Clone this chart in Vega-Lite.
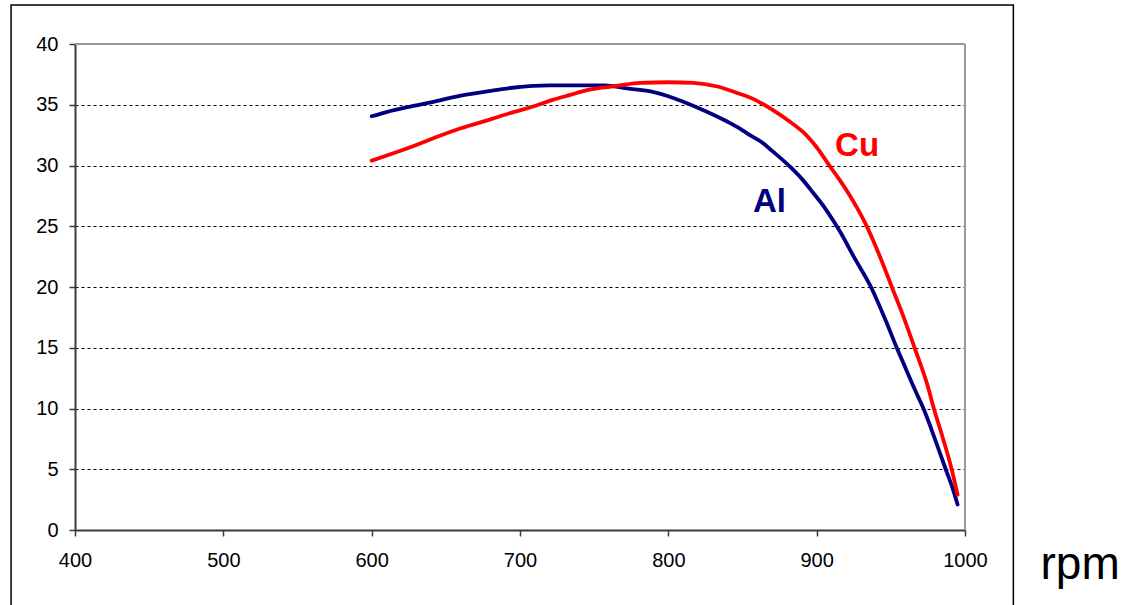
{
  "$schema": "https://vega.github.io/schema/vega-lite/v6.json",
  "width": 890,
  "height": 486,
  "autosize": {"type": "none"},
  "padding": {"left": 75, "top": 44, "right": 163, "bottom": 75},
  "background": "white",
  "config": {
    "view": {"stroke": null},
    "font": "Liberation Sans"
  },
  "datasets": {
    "torque": [
      {"metal": "Al", "rpm": 600, "torque": 34.05},
      {"metal": "Al", "rpm": 610, "torque": 34.4},
      {"metal": "Al", "rpm": 626, "torque": 34.85},
      {"metal": "Al", "rpm": 640, "torque": 35.2},
      {"metal": "Al", "rpm": 660, "torque": 35.75},
      {"metal": "Al", "rpm": 680, "torque": 36.15},
      {"metal": "Al", "rpm": 695, "torque": 36.4},
      {"metal": "Al", "rpm": 720, "torque": 36.6},
      {"metal": "Al", "rpm": 757, "torque": 36.6},
      {"metal": "Al", "rpm": 772, "torque": 36.35},
      {"metal": "Al", "rpm": 788, "torque": 36.1},
      {"metal": "Al", "rpm": 800, "torque": 35.7},
      {"metal": "Al", "rpm": 810, "torque": 35.25},
      {"metal": "Al", "rpm": 821, "torque": 34.7},
      {"metal": "Al", "rpm": 840, "torque": 33.6},
      {"metal": "Al", "rpm": 848, "torque": 33.06},
      {"metal": "Al", "rpm": 855, "torque": 32.5},
      {"metal": "Al", "rpm": 862, "torque": 32.0},
      {"metal": "Al", "rpm": 870, "torque": 31.2},
      {"metal": "Al", "rpm": 882, "torque": 29.9},
      {"metal": "Al", "rpm": 890, "torque": 28.9},
      {"metal": "Al", "rpm": 898, "torque": 27.7},
      {"metal": "Al", "rpm": 905, "torque": 26.6},
      {"metal": "Al", "rpm": 912, "torque": 25.3},
      {"metal": "Al", "rpm": 916, "torque": 24.5},
      {"metal": "Al", "rpm": 925, "torque": 22.5},
      {"metal": "Al", "rpm": 937, "torque": 19.9},
      {"metal": "Al", "rpm": 946, "torque": 17.4},
      {"metal": "Al", "rpm": 954, "torque": 15.0},
      {"metal": "Al", "rpm": 960, "torque": 13.3},
      {"metal": "Al", "rpm": 966, "torque": 11.6},
      {"metal": "Al", "rpm": 972, "torque": 10.0},
      {"metal": "Al", "rpm": 980, "torque": 7.4},
      {"metal": "Al", "rpm": 987, "torque": 5.0},
      {"metal": "Al", "rpm": 992, "torque": 3.3},
      {"metal": "Al", "rpm": 995, "torque": 2.1},
      {"metal": "Cu", "rpm": 600, "torque": 30.4},
      {"metal": "Cu", "rpm": 626, "torque": 31.5},
      {"metal": "Cu", "rpm": 645, "torque": 32.4},
      {"metal": "Cu", "rpm": 660, "torque": 33.06},
      {"metal": "Cu", "rpm": 680, "torque": 33.8},
      {"metal": "Cu", "rpm": 693, "torque": 34.3},
      {"metal": "Cu", "rpm": 710, "torque": 34.9},
      {"metal": "Cu", "rpm": 722, "torque": 35.4},
      {"metal": "Cu", "rpm": 735, "torque": 35.85},
      {"metal": "Cu", "rpm": 742, "torque": 36.1},
      {"metal": "Cu", "rpm": 755, "torque": 36.4},
      {"metal": "Cu", "rpm": 765, "torque": 36.55},
      {"metal": "Cu", "rpm": 781, "torque": 36.8},
      {"metal": "Cu", "rpm": 800, "torque": 36.85},
      {"metal": "Cu", "rpm": 817, "torque": 36.8},
      {"metal": "Cu", "rpm": 833, "torque": 36.5},
      {"metal": "Cu", "rpm": 848, "torque": 35.9},
      {"metal": "Cu", "rpm": 855, "torque": 35.6},
      {"metal": "Cu", "rpm": 870, "torque": 34.6},
      {"metal": "Cu", "rpm": 882, "torque": 33.6},
      {"metal": "Cu", "rpm": 893, "torque": 32.5},
      {"metal": "Cu", "rpm": 900, "torque": 31.5},
      {"metal": "Cu", "rpm": 908, "torque": 30.1},
      {"metal": "Cu", "rpm": 915, "torque": 28.9},
      {"metal": "Cu", "rpm": 922, "torque": 27.6},
      {"metal": "Cu", "rpm": 933, "torque": 25.2},
      {"metal": "Cu", "rpm": 942, "torque": 22.7},
      {"metal": "Cu", "rpm": 951, "torque": 19.9},
      {"metal": "Cu", "rpm": 959, "torque": 17.4},
      {"metal": "Cu", "rpm": 966, "torque": 15.0},
      {"metal": "Cu", "rpm": 975, "torque": 11.8},
      {"metal": "Cu", "rpm": 979, "torque": 10.0},
      {"metal": "Cu", "rpm": 985, "torque": 7.6},
      {"metal": "Cu", "rpm": 991, "torque": 5.0},
      {"metal": "Cu", "rpm": 995, "torque": 2.9}
    ]
  },
  "layer": [
    {
      "data": {"values": [{}]},
      "mark": {"type": "rect", "fill": null, "stroke": "black", "strokeWidth": 1.5, "clip": false},
      "encoding": {
        "x": {"datum": 356.9, "type": "quantitative"},
        "x2": {"datum": 1032.6},
        "y": {"datum": 43.2, "type": "quantitative"},
        "y2": {"datum": -10}
      }
    },
    {
      "data": {"name": "torque"},
      "mark": {"type": "line", "interpolate": "monotone", "strokeWidth": 3.8, "strokeJoin": "round", "strokeCap": "round"},
      "encoding": {
        "x": {
          "field": "rpm",
          "type": "quantitative",
          "scale": {"domain": [400, 1000], "nice": false, "zero": false},
          "axis": {
            "values": [400, 500, 600, 700, 800, 900, 1000],
            "format": "d",
            "grid": false,
            "labelFlush": false,
            "labelFont": "Liberation Sans",
            "labelFontSize": 20,
            "labelColor": "black",
            "labelPadding": 14,
            "domainColor": "#3a3a3a",
            "domainWidth": 2,
            "tickColor": "#3a3a3a",
            "tickWidth": 1.5,
            "tickSize": 6,
            "title": "rpm",
            "titleFont": "Liberation Sans",
            "titleFontSize": 46,
            "titleFontWeight": "normal",
            "titleColor": "black",
            "titleX": 965,
            "titleY": 48,
            "titleAlign": "left",
            "titleBaseline": "alphabetic",
            "titleAnchor": "start"
          }
        },
        "y": {
          "field": "torque",
          "type": "quantitative",
          "scale": {"domain": [0, 40], "nice": false},
          "axis": {
            "values": [0, 5, 10, 15, 20, 25, 30, 35, 40],
            "grid": true,
            "gridColor": "black",
            "gridDash": [3, 3],
            "gridWidth": 1,
            "labelFlush": false,
            "labelFont": "Liberation Sans",
            "labelFontSize": 20,
            "labelColor": "black",
            "labelPadding": 11,
            "domainColor": "#3a3a3a",
            "domainWidth": 2,
            "tickColor": "#3a3a3a",
            "tickWidth": 1.5,
            "tickSize": 6,
            "title": null
          }
        },
        "color": {
          "field": "metal",
          "type": "nominal",
          "scale": {"domain": ["Al", "Cu"], "range": ["#000080", "#ff0000"]},
          "legend": null
        }
      }
    },
    {
      "data": {"values": [{}]},
      "mark": {"type": "rule", "color": "#999999", "strokeWidth": 2},
      "encoding": {"y": {"datum": 40, "type": "quantitative"}}
    },
    {
      "data": {"values": [{}]},
      "mark": {"type": "rule", "color": "#999999", "strokeWidth": 2},
      "encoding": {"x": {"datum": 1000, "type": "quantitative"}}
    },
    {
      "data": {"values": [{}]},
      "mark": {"type": "text", "text": "Cu", "color": "#ff0000", "font": "Liberation Sans", "fontSize": 33, "fontWeight": "bold", "align": "left", "baseline": "alphabetic"},
      "encoding": {
        "x": {"datum": 912.4, "type": "quantitative"},
        "y": {"datum": 30.8, "type": "quantitative"}
      }
    },
    {
      "data": {"values": [{}]},
      "mark": {"type": "text", "text": "Al", "color": "#000080", "font": "Liberation Sans", "fontSize": 33, "fontWeight": "bold", "align": "left", "baseline": "alphabetic"},
      "encoding": {
        "x": {"datum": 857, "type": "quantitative"},
        "y": {"datum": 26.2, "type": "quantitative"}
      }
    }
  ]
}
